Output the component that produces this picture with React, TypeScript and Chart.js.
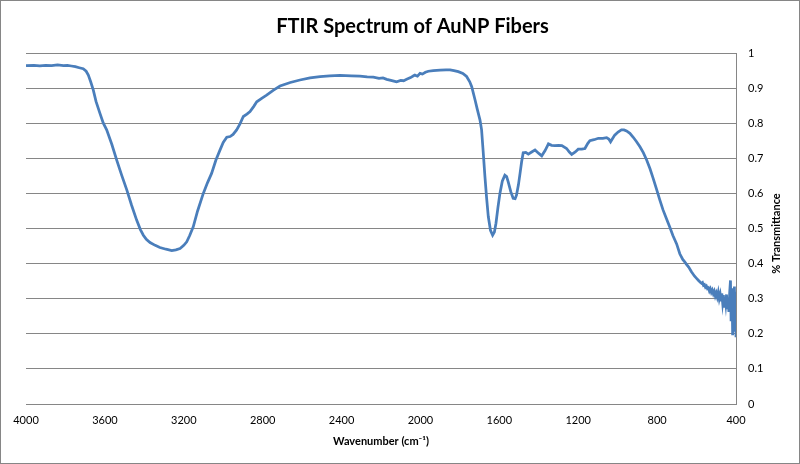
import { useEffect, useRef } from "react";
import Chart from "chart.js/auto";

// Wavenumber (cm-1), high to low
const wavenumbers = [
  4000, 3960, 3930, 3900, 3870, 3840, 3810, 3790, 3770, 3750, 3730, 3710, 3695, 3684, 3672, 3659,
  3645, 3625, 3608, 3591, 3565, 3540, 3515, 3489, 3465, 3439, 3420, 3405, 3390, 3371, 3345, 3321,
  3290, 3261, 3240, 3219, 3200, 3185, 3170, 3152, 3130, 3101, 3080, 3059, 3037, 3016, 3000, 2982,
  2965, 2950, 2932, 2915, 2898, 2880, 2864, 2845, 2830, 2805, 2780, 2745, 2712, 2660, 2611, 2560,
  2509, 2460, 2408, 2350, 2307, 2270, 2239, 2210, 2190, 2171, 2150, 2135, 2121, 2100, 2085, 2070,
  2050, 2035, 2028, 2015, 2002, 1990, 1975, 1960, 1935, 1900, 1870, 1850, 1830, 1808, 1785, 1766,
  1750, 1740, 1723, 1712, 1698, 1690, 1682, 1673, 1665, 1656, 1645, 1634, 1625, 1617, 1607, 1597,
  1585, 1572, 1563, 1555, 1542, 1530, 1520, 1513, 1503, 1495, 1487, 1479, 1466, 1453, 1436, 1419,
  1400, 1385, 1368, 1351, 1335, 1318, 1300, 1283, 1259, 1245, 1233, 1215, 1200, 1182, 1166, 1152,
  1141, 1120, 1098, 1075, 1056, 1045, 1036, 1025, 1015, 998, 981, 968, 955, 938, 921, 905,
  887, 870, 853, 836, 820, 803, 786, 770, 752, 735, 720, 701, 685, 670, 660, 651,
  640, 626, 610, 600, 590, 580, 575, 570, 565, 560, 555, 550, 545, 540, 535, 530,
  525, 520, 515, 510, 505, 500, 495, 490, 485, 480, 476, 472, 468, 464, 460, 456,
  452, 448, 444, 440, 436, 432, 428, 425, 422, 419, 417, 414, 411, 408, 405, 402,
  400,
];

// % Transmittance (fraction), one value per wavenumber above
const transmittance = [
  0.964, 0.965, 0.963, 0.965, 0.964, 0.966, 0.964, 0.965, 0.963, 0.961, 0.958, 0.955, 0.948, 0.937, 0.918, 0.895,
  0.862, 0.828, 0.8, 0.781, 0.74, 0.695, 0.652, 0.61, 0.567, 0.524, 0.497, 0.481, 0.469, 0.46, 0.452, 0.446,
  0.441, 0.437, 0.439, 0.443, 0.452, 0.462, 0.48, 0.505, 0.55, 0.6, 0.63, 0.657, 0.695, 0.724, 0.745, 0.76,
  0.762, 0.768, 0.781, 0.798, 0.819, 0.826, 0.833, 0.848, 0.861, 0.871, 0.88, 0.894, 0.906, 0.916, 0.923, 0.929,
  0.933, 0.935, 0.936, 0.935, 0.934, 0.932, 0.931, 0.928, 0.929, 0.925, 0.922, 0.92, 0.918, 0.922, 0.921, 0.925,
  0.93, 0.935, 0.937, 0.934, 0.942, 0.94, 0.945, 0.948, 0.95, 0.951, 0.952, 0.952, 0.95, 0.947, 0.942, 0.933,
  0.918, 0.904, 0.866, 0.84, 0.809, 0.781, 0.72, 0.648, 0.59, 0.534, 0.495, 0.481, 0.49, 0.515, 0.56, 0.6,
  0.635, 0.652, 0.648, 0.633, 0.605, 0.586, 0.585, 0.595, 0.625, 0.657, 0.69, 0.716, 0.717, 0.712, 0.718, 0.724,
  0.714, 0.707, 0.722, 0.741, 0.737, 0.736, 0.737, 0.736, 0.728, 0.718, 0.711, 0.718, 0.726, 0.726, 0.728, 0.742,
  0.75, 0.753, 0.757, 0.757, 0.759, 0.755, 0.747, 0.757, 0.766, 0.775, 0.781, 0.781, 0.778, 0.771, 0.76, 0.748,
  0.733, 0.716, 0.695, 0.67, 0.643, 0.612, 0.581, 0.553, 0.527, 0.503, 0.48, 0.456, 0.428, 0.412, 0.405, 0.398,
  0.39, 0.377, 0.364, 0.358, 0.352, 0.346, 0.344, 0.346, 0.338, 0.34, 0.333, 0.336, 0.329, 0.331, 0.322, 0.328,
  0.318, 0.324, 0.314, 0.321, 0.308, 0.316, 0.305, 0.318, 0.3, 0.312, 0.296, 0.315, 0.29, 0.31, 0.278, 0.305,
  0.286, 0.312, 0.27, 0.3, 0.262, 0.318, 0.352, 0.24, 0.33, 0.28, 0.196, 0.3, 0.25, 0.335, 0.21, 0.32,
  0.19,
];

const xTicks = { min: 400, max: 4000, step: 400 };
const yTicks = { min: 0, max: 1, step: 0.1 };

const FONT = "Lato, 'Open Sans', sans-serif";
const GRID = "#868686";

// Excel puts the right-hand axis title reading upwards; Chart.js would rotate it the other way
const rightTitle = {
  id: "rightTitle",
  afterDraw(chart: any) {
    const { ctx, chartArea } = chart;
    ctx.save();
    ctx.font = `bold 11px ${FONT}`;
    ctx.fillStyle = "#000";
    ctx.textAlign = "center";
    ctx.textBaseline = "middle";
    ctx.translate(chartArea.right + 40, (chartArea.top + chartArea.bottom) / 2 + 5);
    ctx.rotate(-Math.PI / 2);
    ctx.fillText("% Transmittance", 0, 0);
    ctx.restore();
  },
};

export default function App() {
  const canvasRef = useRef<HTMLCanvasElement>(null);
  const chartRef = useRef<Chart | null>(null);

  useEffect(() => {
    if (!canvasRef.current) return;
    if (chartRef.current) chartRef.current.destroy();

    const points = wavenumbers.map((w, i) => ({ x: w, y: transmittance[i] }));

    chartRef.current = new Chart(canvasRef.current, {
      type: "line",
      data: {
        datasets: [
          {
            data: points,
            borderColor: "#4a7ebb",
            borderWidth: 2.75,
            pointRadius: 0,
            tension: 0,
            fill: false,
          },
        ],
      },
      options: {
        responsive: false,
        animation: false,
        layout: { padding: { left: 25, right: 0, top: 0, bottom: 0 } },
        plugins: {
          legend: { display: false },
          tooltip: { enabled: false },
          title: {
            display: true,
            text: "FTIR Spectrum of AuNP Fibers",
            color: "#000",
            font: { family: FONT, size: 20, weight: "bold" },
            padding: { top: 14, bottom: 14 },
          },
        },
        scales: {
          x: {
            type: "linear",
            position: "bottom",
            reverse: true,
            min: xTicks.min,
            max: xTicks.max,
            ticks: {
              stepSize: xTicks.step,
              color: "#000",
              font: { family: FONT, size: 11 },
              padding: 10,
              maxRotation: 0,
              callback: (v: any) => String(v),
            },
            grid: { display: false, drawTicks: false },
            border: { display: true, color: GRID },
            title: {
              display: true,
              text: "Wavenumber (cm\u207B\u00B9)",
              color: "#000",
              font: { family: FONT, size: 11, weight: "bold" },
              padding: { top: 0, bottom: 15 },
            },
            afterFit: (scale: any) => {
              scale.height = 59;
            },
          },
          y: {
            type: "linear",
            position: "right",
            min: yTicks.min,
            max: yTicks.max,
            ticks: {
              stepSize: yTicks.step,
              color: "#000",
              font: { family: FONT, size: 11 },
              padding: 12,
              callback: (v: any) => String(Math.round(Number(v) * 10) / 10),
            },
            grid: { color: GRID, drawTicks: false },
            border: { display: true, color: GRID },
            afterFit: (scale: any) => {
              scale.width = 63;
            },
          },
        },
      } as any,
      plugins: [rightTitle],
    });

    return () => {
      if (chartRef.current) {
        chartRef.current.destroy();
        chartRef.current = null;
      }
    };
  }, []);

  return (
    <div
      style={{
        position: "fixed",
        left: 0,
        top: 0,
        width: 800,
        height: 464,
        boxSizing: "border-box",
        border: `1px solid ${GRID}`,
        background: "#fff",
      }}
    >
      <canvas ref={canvasRef} width={798} height={462} style={{ display: "block" }} />
    </div>
  );
}
